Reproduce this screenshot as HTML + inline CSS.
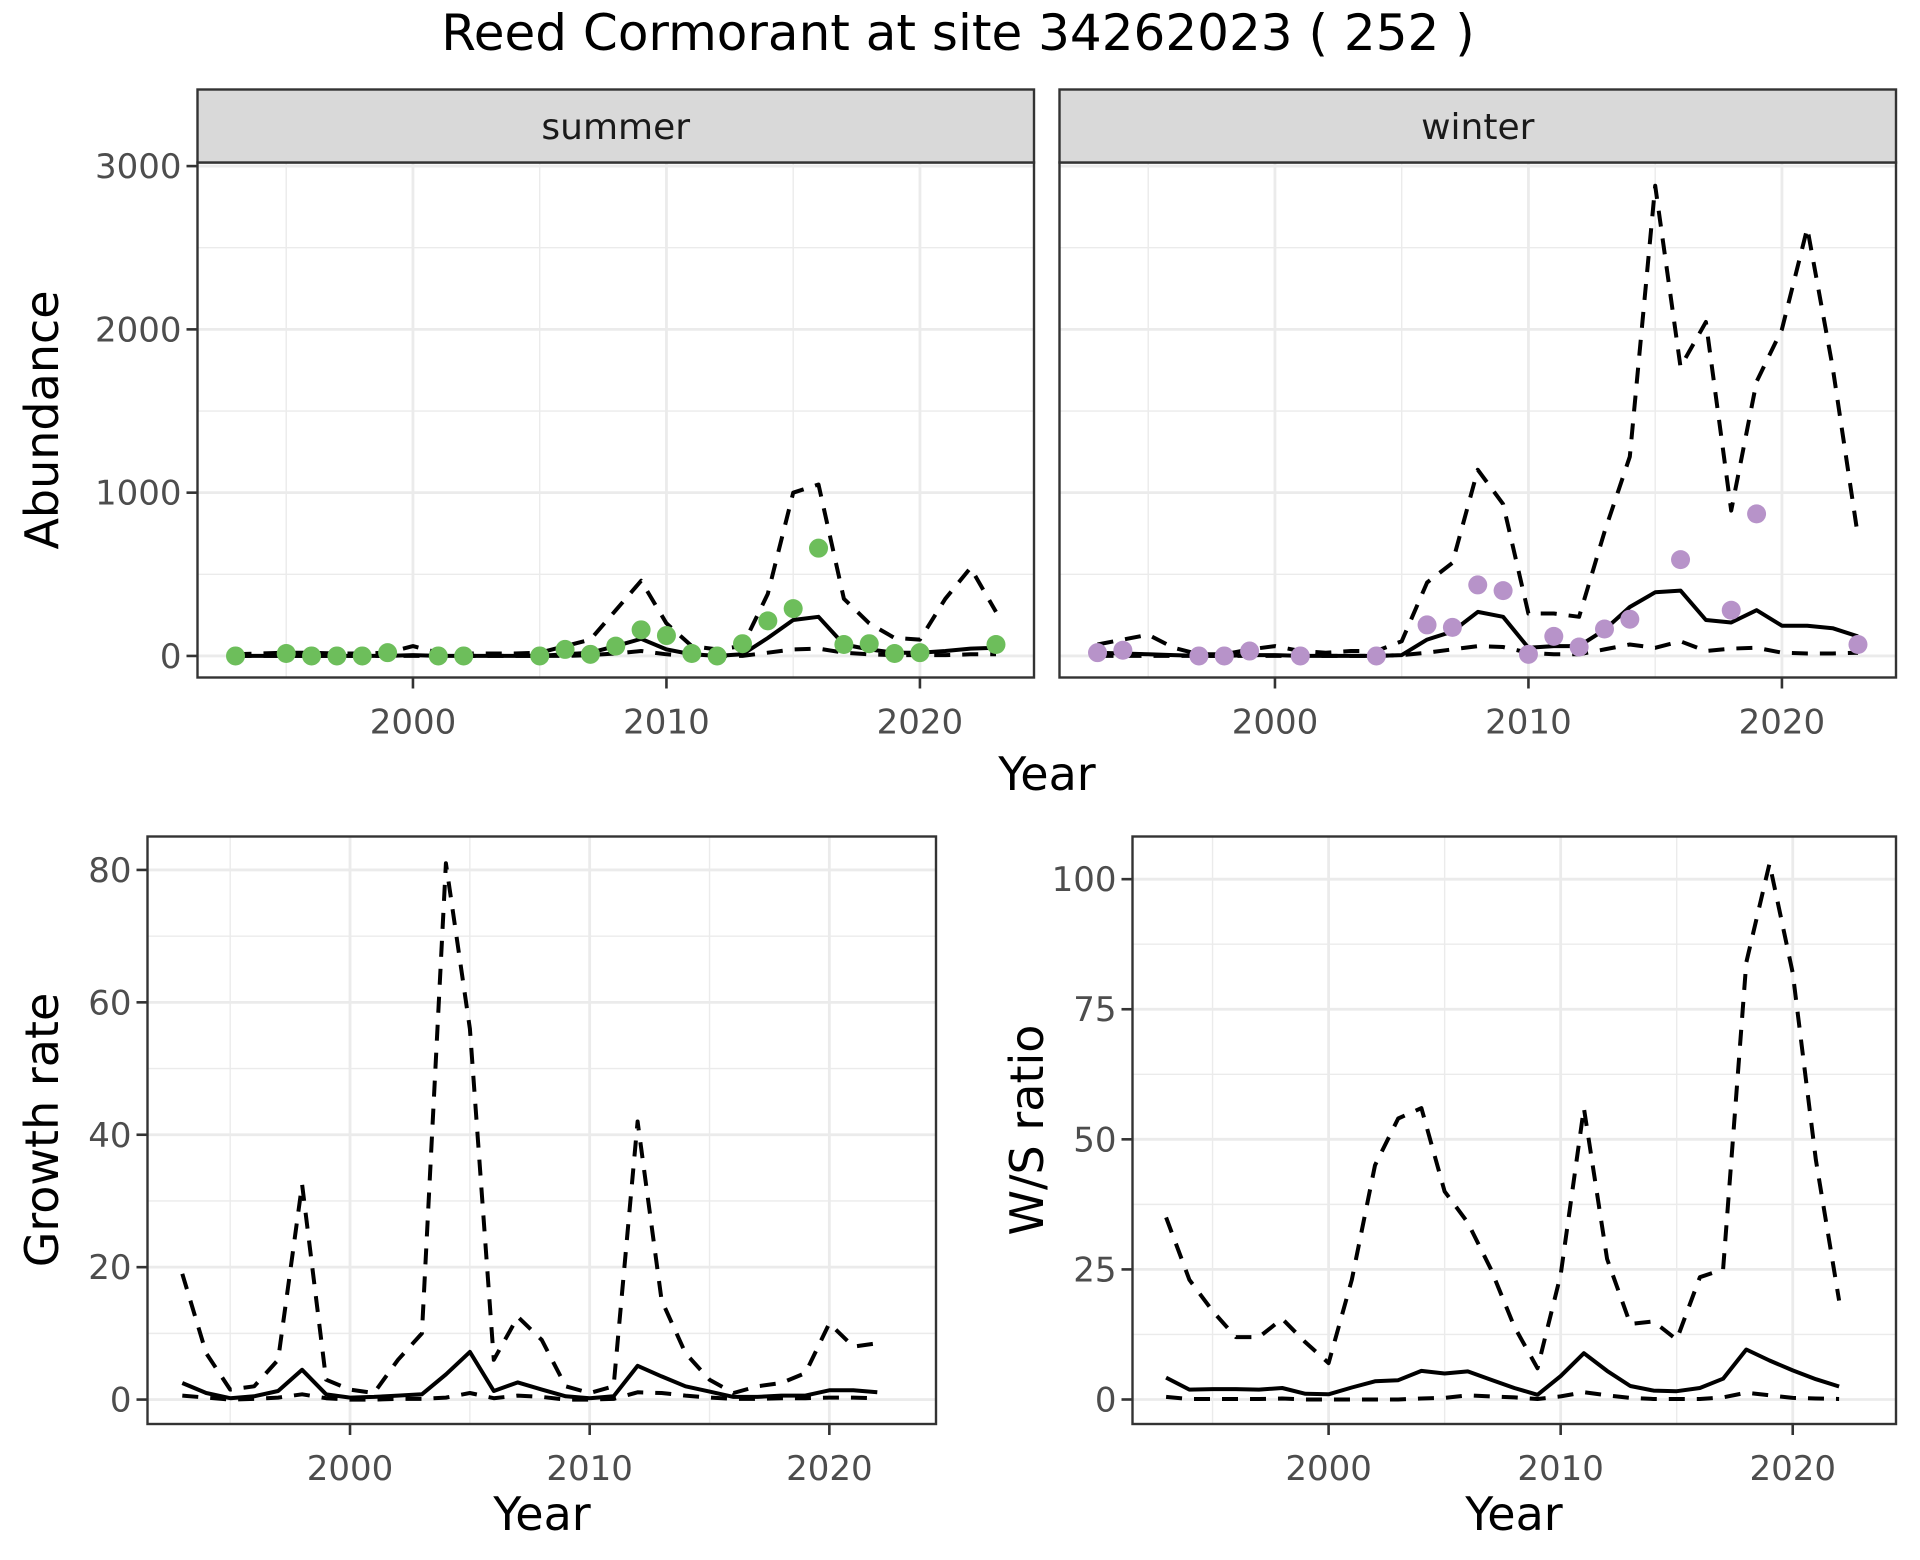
<!DOCTYPE html>
<html><head><meta charset="utf-8">
<style>
html,body{margin:0;padding:0;background:#fff;}
svg{display:block;font-family:"DejaVu Sans","Liberation Sans",sans-serif;}
</style></head>
<body>
<svg id="chart" width="1920" height="1560" viewBox="0 0 1920 1560" xmlns="http://www.w3.org/2000/svg">
<rect width="1920" height="1560" fill="#fff"/>
<text x="958" y="50" font-size="50" text-anchor="middle" fill="#000">Reed Cormorant at site 34262023 ( 252 )</text>
</svg>
<script>
// ----- data -----
const yearsAbund = [1993,1994,1995,1996,1997,1998,1999,2000,2001,2002,2003,2004,2005,2006,2007,2008,2009,2010,2011,2012,2013,2014,2015,2016,2017,2018,2019,2020,2021,2022,2023];
const summerPtYears = [1993,1995,1996,1997,1998,1999,2001,2002,2005,2006,2007,2008,2009,2010,2011,2012,2013,2014,2015,2016,2017,2018,2019,2020,2023];
const summerPtVals  = [0,15,0,0,0,20,0,0,0,40,10,60,160,125,15,0,75,215,290,660,70,75,15,20,70];
const summerMean  = [0,0,0,0,0,0,0,5,0,0,0,0,0,10,20,60,105,40,10,0,10,110,220,240,70,40,20,20,30,45,50];
const summerUpper = [10,15,20,20,15,15,20,60,20,15,15,15,20,60,100,280,460,200,60,40,60,380,1000,1050,350,200,110,100,350,540,270];
const summerLower = [0,0,0,0,0,0,0,0,0,0,0,0,0,0,5,15,30,10,0,0,0,20,40,45,20,10,5,5,5,10,10];
const winterPtYears = [1993,1994,1997,1998,1999,2001,2004,2006,2007,2008,2009,2010,2011,2012,2013,2014,2016,2018,2019,2023];
const winterPtVals  = [20,35,0,0,30,0,0,190,175,435,400,10,120,55,165,225,590,280,870,70];
const winterMean  = [20,15,10,5,0,0,5,5,0,0,0,0,5,100,150,270,240,50,60,60,160,300,390,400,220,205,280,185,185,170,120];
const winterUpper = [70,100,130,50,10,10,40,60,30,20,30,30,90,450,570,1140,930,260,260,240,760,1220,2880,1770,2045,890,1680,2000,2620,1770,730];
const winterLower = [0,0,0,0,0,0,0,0,0,0,0,0,5,20,40,60,55,20,10,10,40,70,50,90,30,45,50,20,15,15,20];
const yearsRate = [1993,1994,1995,1996,1997,1998,1999,2000,2001,2002,2003,2004,2005,2006,2007,2008,2009,2010,2011,2012,2013,2014,2015,2016,2017,2018,2019,2020,2021,2022];
const growthMean  = [2.5,1,0.2,0.5,1.3,4.5,0.8,0.3,0.4,0.6,0.8,3.8,7.2,1.3,2.6,1.5,0.5,0.2,0.5,5.1,3.5,2,1.2,0.4,0.4,0.6,0.6,1.4,1.4,1.1];
const growthUpper = [19,7,1.5,2,6,32.5,3,1.5,1,6,10,81,56,6,12.5,9,2,1,2,42,15,7,3,1,2,2.5,4,11.5,8,8.5];
const growthLower = [0.6,0.3,0,0.1,0.3,0.8,0.2,0,0,0.1,0.1,0.3,1,0.2,0.6,0.4,0,0,0.1,1.1,1,0.6,0.3,0.1,0.1,0.2,0.2,0.3,0.3,0.2];
const wsMean  = [4.2,1.9,2,2,1.9,2.2,1.1,1,2.3,3.5,3.7,5.5,5,5.4,3.8,2.2,0.9,4.5,8.9,5.5,2.6,1.7,1.6,2.2,4,9.6,7.5,5.6,3.9,2.5];
const wsUpper = [35,23,17,12,12,15.5,11,7,23,45,54,56,40,34,25,14,6,24,56,27,14.5,15,11.5,23.5,25,84,103,82,46,19];
const wsLower = [0.5,0.1,0.1,0.1,0.1,0.2,0,0,0,0,0,0.2,0.3,0.8,0.6,0.4,0.1,0.6,1.4,0.8,0.3,0.1,0.1,0.1,0.4,1.3,0.8,0.3,0.2,0.1];
const abundTicks = [0,1000,2000,3000];
const growthTicks = [0,20,40,60,80];
const wsTicks = [0,25,50,75,100];
const yearTicks = [2000,2010,2020];

const NS = "http://www.w3.org/2000/svg";
const svg = document.getElementById('chart');
function mk(tag, attrs, parent){
  const e = document.createElementNS(NS, tag);
  for (const k in attrs) e.setAttribute(k, attrs[k]);
  (parent||svg).appendChild(e);
  return e;
}

function panel(o){
  const g = mk('g', {});
  
  
  const sx = v => o.x0 + (v - o.xmin) / (o.xmax - o.xmin) * (o.x1 - o.x0);
  const sy = v => o.y1 - (v - o.ymin) / (o.ymax - o.ymin) * (o.y1 - o.y0);
  const bg = mk('rect', {x:o.x0, y:o.y0, width:o.x1-o.x0, height:o.y1-o.y0, fill:'#fff'}, g);
  
  
  for (let i = 0; i < o.yticks.length - 1; i++) {
    const m = (o.yticks[i] + o.yticks[i+1]) / 2;
    const ln = mk('line', {x1:o.x0, x2:o.x1, y1:sy(m), y2:sy(m), stroke:'#ebebeb', 'stroke-width':1.4}, g);
    
    
  }
  const ystep = o.yticks[1] - o.yticks[0];
  if (sy(o.yticks[o.yticks.length-1] + ystep/2) > o.y0) {
    const m = o.yticks[o.yticks.length-1] + ystep/2;
    const ln = mk('line', {x1:o.x0, x2:o.x1, y1:sy(m), y2:sy(m), stroke:'#ebebeb', 'stroke-width':1.4}, g);
    
    
  }
  [1995,2005,2015].forEach(v => {
    const ln = mk('line', {x1:sx(v), x2:sx(v), y1:o.y0, y2:o.y1, stroke:'#ebebeb', 'stroke-width':1.4}, g);
    
    
  });
  o.yticks.forEach(v => {
    const ln = mk('line', {x1:o.x0, x2:o.x1, y1:sy(v), y2:sy(v), stroke:'#ebebeb', 'stroke-width':2.8}, g);
    
    
  });
  yearTicks.forEach(v => {
    const ln = mk('line', {x1:sx(v), x2:sx(v), y1:o.y0, y2:o.y1, stroke:'#ebebeb', 'stroke-width':2.8}, g);
    
    
  });
  const path = (xs, ys) => xs.map((x,i) => (i?'L':'M') + sx(x).toFixed(1) + ' ' + sy(ys[i]).toFixed(1)).join(' ');
  const lower = mk('path', {d:path(o.xs, o.lower), fill:'none', stroke:'#000', 'stroke-width':4, 'stroke-dasharray':'16 12', 'stroke-linejoin':'round'}, g);
  
  
  const upper = mk('path', {d:path(o.xs, o.upper), fill:'none', stroke:'#000', 'stroke-width':4, 'stroke-dasharray':'16 12', 'stroke-linejoin':'round'}, g);
  
  
  const mean = mk('path', {d:path(o.xs, o.mean), fill:'none', stroke:'#000', 'stroke-width':4, 'stroke-linejoin':'round'}, g);
  
  
  if (o.ptx) {
    o.ptx.forEach((x,i) => {
      const c = mk('circle', {cx:sx(x), cy:sy(o.pty[i]), r:9.5, fill:o.color}, g);
      
      
    });
  }
  const br = mk('rect', {x:o.x0, y:o.y0, width:o.x1-o.x0, height:o.y1-o.y0, fill:'none', stroke:'#333', 'stroke-width':2.4}, g);
  
  
  yearTicks.forEach(v => {
    const t = mk('line', {x1:sx(v), x2:sx(v), y1:o.y1, y2:o.y1+11, stroke:'#333', 'stroke-width':2.6}, g);
    
    
    const tx = mk('text', {x:sx(v), y:o.y1+56, 'font-size':34, 'text-anchor':'middle', fill:'#4d4d4d'}, g);
    tx.textContent = v;
    
    
  });
  if (o.showY) {
    o.yticks.forEach(v => {
      const t = mk('line', {x1:o.x0-11, x2:o.x0, y1:sy(v), y2:sy(v), stroke:'#333', 'stroke-width':2.6}, g);
      
      
      const tx = mk('text', {x:o.x0-16, y:sy(v)+12, 'font-size':34, 'text-anchor':'end', fill:'#4d4d4d'}, g);
      tx.textContent = v;
      
      
    });
  }
  if (o.strip) {
    const s = mk('rect', {x:o.x0, y:89.5, width:o.x1-o.x0, height:o.y0-89.5, fill:'#d9d9d9', stroke:'#333', 'stroke-width':2.4}, g);
    
    
    const st = mk('text', {x:(o.x0+o.x1)/2, y:139, 'font-size':36, 'text-anchor':'middle', fill:'#1a1a1a'}, g);
    st.textContent = o.strip;
    
    
  }
}

panel({name:'summer-panel', strip:'summer', x0:197.5, x1:1034, y0:162.5, y1:677.5, xmin:1991.5, xmax:2024.5, ymin:-132, ymax:3022,
  yticks:abundTicks, xs:yearsAbund, mean:summerMean, upper:summerUpper, lower:summerLower, ptx:summerPtYears, pty:summerPtVals, color:'#6dbe5b', showY:true});
panel({name:'winter-panel', strip:'winter', x0:1059.5, x1:1896, y0:162.5, y1:677.5, xmin:1991.5, xmax:2024.5, ymin:-132, ymax:3022,
  yticks:abundTicks, xs:yearsAbund, mean:winterMean, upper:winterUpper, lower:winterLower, ptx:winterPtYears, pty:winterPtVals, color:'#b793c9', showY:false});
panel({name:'growth-rate-panel', x0:147.5, x1:936, y0:836.5, y1:1424, xmin:1991.55, xmax:2024.45, ymin:-3.69, ymax:85.05,
  yticks:growthTicks, xs:yearsRate, mean:growthMean, upper:growthUpper, lower:growthLower, showY:true});
panel({name:'ws-ratio-panel', x0:1132.5, x1:1896, y0:836.5, y1:1424, xmin:1991.55, xmax:2024.45, ymin:-4.71, ymax:108.2,
  yticks:wsTicks, xs:yearsRate, mean:wsMean, upper:wsUpper, lower:wsLower, showY:true});

function label(txt, x, y, rot, name){
  const t = mk('text', {x:x, y:y, 'font-size':46, 'text-anchor':'middle', fill:'#000'});
  if (rot) t.setAttribute('transform', 'rotate(-90 ' + x + ' ' + y + ')');
  t.textContent = txt;
  
  
}
label('Year', 1047, 790, false, 'top-x-axis-title');
label('Abundance', 58, 420, true, 'abundance-y-axis-title');
label('Year', 542, 1530, false, 'growth-x-axis-title');
label('Growth rate', 58, 1130, true, 'growth-y-axis-title');
label('Year', 1514, 1530, false, 'ws-x-axis-title');
label('W/S ratio', 1043, 1130, true, 'ws-y-axis-title');
</script>
</body></html>
